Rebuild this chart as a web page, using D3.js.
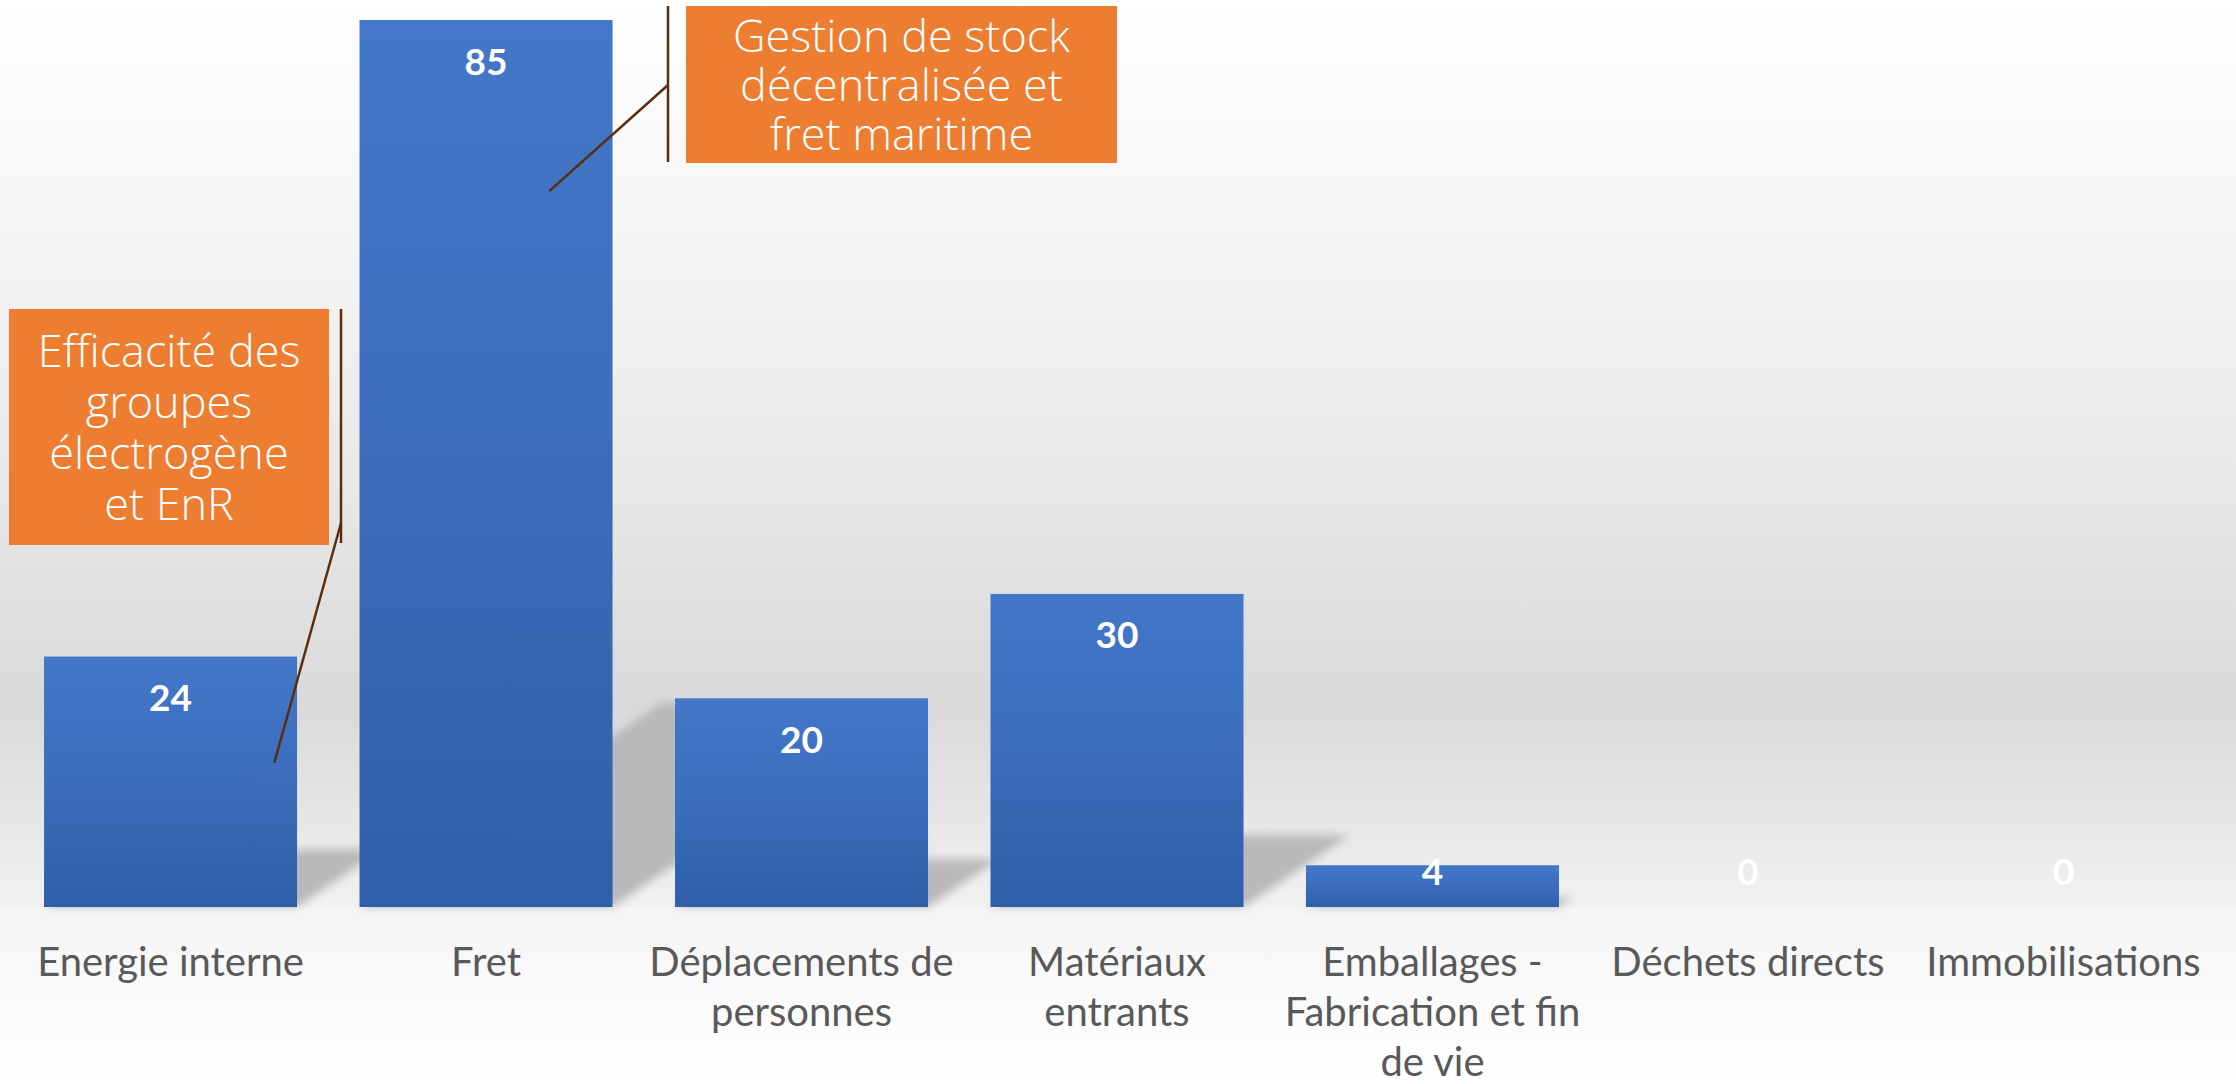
<!DOCTYPE html>
<html>
<head>
<meta charset="utf-8">
<script src="https://cdn.jsdelivr.net/npm/d3@7"></script>
<style>
  html, body { margin: 0; padding: 0; background: #fff; }
  svg { display: block; }
</style>
</head>
<body>
<svg id="chart" width="2236" height="1084"></svg>
<script>
// ---- data ----
const categories = ["Energie interne", "Fret", "Déplacements de personnes", "Matériaux entrants",
  "Emballages - Fabrication et fin de vie", "Déchets directs", "Immobilisations"];
const categoryLines = [["Energie interne"], ["Fret"], ["Déplacements de", "personnes"],
  ["Matériaux", "entrants"], ["Emballages -", "Fabrication et fin", "de vie"],
  ["Déchets directs"], ["Immobilisations"]];
const values = [24, 85, 20, 30, 4, 0, 0];
const calloutTexts = [
  ["Efficacité des", "groupes", "électrogène", "et EnR"],
  ["Gestion de stock", "décentralisée et", "fret maritime"]
];
const calloutCategories = ["Energie interne", "Fret"];
const calloutAnchorValues = [13.8, 68.6];   // where the leader line touches the bar (value units)

// ---- layout ----
const W = 2236, H = 1084;
const svg = d3.select("#chart");
const defs = svg.append("defs");

const bg = defs.append("linearGradient").attr("id", "bg").attr("x1", 0).attr("y1", 0).attr("x2", 0).attr("y2", 1);
[[0, "#ffffff"], [0.2, "#f6f6f6"], [0.45, "#e8e8e8"], [0.65, "#d9d9d9"], [0.835, "#f1f1f1"],
 [0.838, "#f5f5f5"], [1, "#ffffff"]].forEach(([o, c]) => bg.append("stop").attr("offset", o).attr("stop-color", c));

const barGrad = defs.append("linearGradient").attr("id", "barGrad").attr("x1", 0).attr("y1", 0).attr("x2", 0).attr("y2", 1);
[[0, "#4377c9"], [0.5, "#3b6dbb"], [1, "#2f5fa8"]].forEach(([o, c]) => barGrad.append("stop").attr("offset", o).attr("stop-color", c));

const blur = defs.append("filter").attr("id", "blur").attr("x", "-20%").attr("y", "-20%").attr("width", "140%").attr("height", "140%");
blur.append("feGaussianBlur").attr("stdDeviation", 4);

svg.append("rect").attr("width", W).attr("height", H).attr("fill", "url(#bg)");

const x = d3.scaleBand().domain(categories).range([12.5, 2221.5]).paddingInner(0.198).paddingOuter(0.1);
const y = d3.scaleLinear().domain([0, 85]).range([907, 20]);
const base = y(0);
const bw = x.bandwidth();

// shadows (perspective, cast up-right)
const sa = 0.34, sb = 0.23;
svg.append("g").attr("filter", "url(#blur)")
  .selectAll("path").data(values).join("path")
  .attr("d", (v, i) => {
    const x0 = x(categories[i]), x1 = x0 + bw, h = base - y(v);
    return `M${x0},${base}L${x1},${base}L${x1 + sa * h},${base - sb * h}L${x0 + sa * h},${base - sb * h}Z`;
  })
  .attr("fill", "#b9b9b9").attr("opacity", v => v > 0 ? 1 : 0);

// bars
svg.append("g").selectAll("rect").data(values).join("rect")
  .attr("x", (v, i) => x(categories[i]))
  .attr("y", v => y(v))
  .attr("width", bw)
  .attr("height", v => base - y(v))
  .attr("fill", "url(#barGrad)");

// value labels
svg.append("g").selectAll("text").data(values).join("text")
  .attr("x", (v, i) => x(categories[i]) + bw / 2)
  .attr("y", v => Math.min(y(v) + 40, base - 37))
  .attr("text-anchor", "middle")
  .attr("dominant-baseline", "central")
  .attr("font-family", "Lato, 'Open Sans', sans-serif")
  .attr("font-weight", "bold")
  .attr("font-size", 37)
  .attr("fill", "#ffffff")
  .text(v => v);

// category labels
const catG = svg.append("g");
categories.forEach((c, i) => {
  const t = catG.append("text")
    .attr("x", x(c) + bw / 2)
    .attr("text-anchor", "middle")
    .attr("font-family", "Lato, 'Open Sans', sans-serif")
    .attr("font-size", 40)
    .attr("fill", "#595959");
  categoryLines[i].forEach((line, j) => {
    t.append("tspan").attr("x", x(c) + bw / 2).attr("y", 976 + j * 50).text(line);
  });
});

// callouts
const calloutBoxes = [
  { x: 9, y: 309, w: 320, h: 236, lh: 51, barX: 341, barY0: 309, barY1: 543, kneeY: 523, fx: 0.91 },
  { x: 686, y: 6, w: 431, h: 157, lh: 49, barX: 668, barY0: 6, barY1: 162, kneeY: 85, fx: 0.75 }
];
const brown = "#5a2d0c";
const cg = svg.append("g");
calloutBoxes.forEach((b, k) => {
  const cat = calloutCategories[k];
  const ax = x(cat) + bw * b.fx, ay = y(calloutAnchorValues[k]);
  cg.append("line").attr("x1", ax).attr("y1", ay).attr("x2", b.barX).attr("y2", b.kneeY)
    .attr("stroke", brown).attr("stroke-width", 2.5);
  cg.append("line").attr("x1", b.barX).attr("y1", b.barY0).attr("x2", b.barX).attr("y2", b.barY1)
    .attr("stroke", brown).attr("stroke-width", 2.5);
  cg.append("rect").attr("x", b.x).attr("y", b.y).attr("width", b.w).attr("height", b.h).attr("fill", "#ED7D31");
  const lines = calloutTexts[k];
  const cy = b.y + b.h / 2;
  const t = cg.append("text")
    .attr("text-anchor", "middle")
    .attr("font-family", "'Open Sans', 'Lato', sans-serif")
    .attr("font-weight", 300)
    .attr("font-size", 45)
    .attr("fill", "#ffffff");
  lines.forEach((line, j) => {
    t.append("tspan").attr("x", b.x + b.w / 2)
      .attr("y", cy + (j - (lines.length - 1) / 2) * b.lh + 16)
      .text(line);
  });
});
</script>
</body>
</html>
